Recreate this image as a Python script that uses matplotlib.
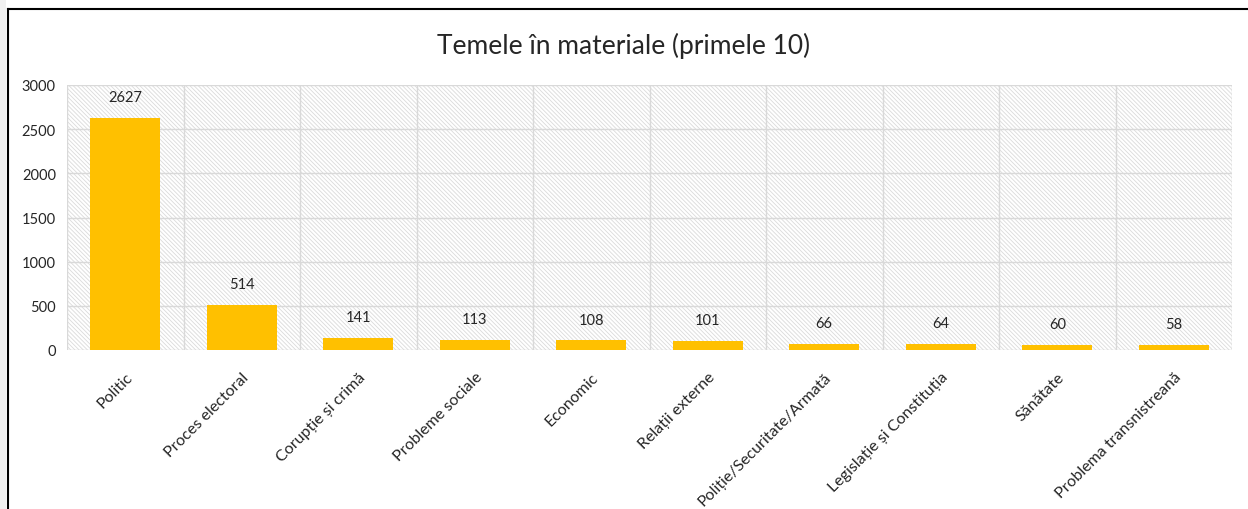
import matplotlib
matplotlib.use("Agg")
import matplotlib.pyplot as plt
from matplotlib.patches import Rectangle
from matplotlib.lines import Line2D
import numpy as np

categories = ["Politic", "Proces electoral", "Corupție și crimă", "Probleme sociale",
              "Economic", "Relații externe", "Poliție/Securitate/Armată",
              "Legislație și Constituția", "Sănătate", "Problema transnistreană"]
values = [2627, 514, 141, 113, 108, 101, 66, 64, 60, 58]
yticks = [0, 500, 1000, 1500, 2000, 2500, 3000]
title = "Temele în materiale (primele 10)"

plt.rcParams['font.family'] = ['Lato', 'DejaVu Sans']
plt.rcParams['hatch.linewidth'] = 0.6
plt.rcParams['hatch.color'] = '#dadada'

fig = plt.figure(figsize=(12.48, 5.10), dpi=100)
ax = fig.add_axes([67/1248, 1-351/510, (1232-67)/1248, (351-86)/510])

x = np.arange(len(categories))
ax.set_xlim(-0.5, len(categories)-0.5)
ax.set_ylim(0, 3000)

# hatched background
ax.add_patch(Rectangle((0, 0), 1, 1, transform=ax.transAxes, facecolor='white',
                       edgecolor='#dadada', hatch='\\' * 8, linewidth=0, zorder=0))
# gridlines
for yv in yticks:
    ax.axhline(yv, color='#d9d9d9', linewidth=1.0, zorder=1)
for b in np.arange(-0.5, len(categories), 1.0):
    ax.axvline(b, color='#d9d9d9', linewidth=1.0, zorder=1)

bars = ax.bar(x, values, width=0.6, color='#FFC000', zorder=2)
for xi, v in zip(x, values):
    ax.annotate(str(v), (xi, v), xytext=(0, 10), textcoords='offset points',
                ha='center', va='bottom', fontsize=10.5, color='#262626')

ax.set_yticks(yticks)
ax.set_yticklabels([str(t) for t in yticks], fontsize=10.5, color='#262626')
ax.set_xticks(x)
ax.set_xticklabels(categories, rotation=45, ha='right', rotation_mode='anchor',
                   fontsize=11.5, color='#262626')
ax.tick_params(axis='both', length=0, pad=8)
ax.tick_params(axis='x', pad=14)
for s in ax.spines.values():
    s.set_visible(False)

fig.text(0.5, 1-46/510, title, ha='center', va='center', fontsize=19,
         color='#262626')

# outer frame pieces
fig.add_artist(Rectangle((0, 0), 6/1248, 1, transform=fig.transFigure,
                         facecolor='#f0f0f0', edgecolor='none', zorder=-1))
fig.add_artist(Line2D([7.5/1248, 7.5/1248], [0, 1-10/510], transform=fig.transFigure,
                      color='black', linewidth=1.5))
fig.add_artist(Line2D([7.5/1248, 1], [1-10/510, 1-10/510], transform=fig.transFigure,
                      color='black', linewidth=1.5))

fig.savefig("out.png", dpi=100)
